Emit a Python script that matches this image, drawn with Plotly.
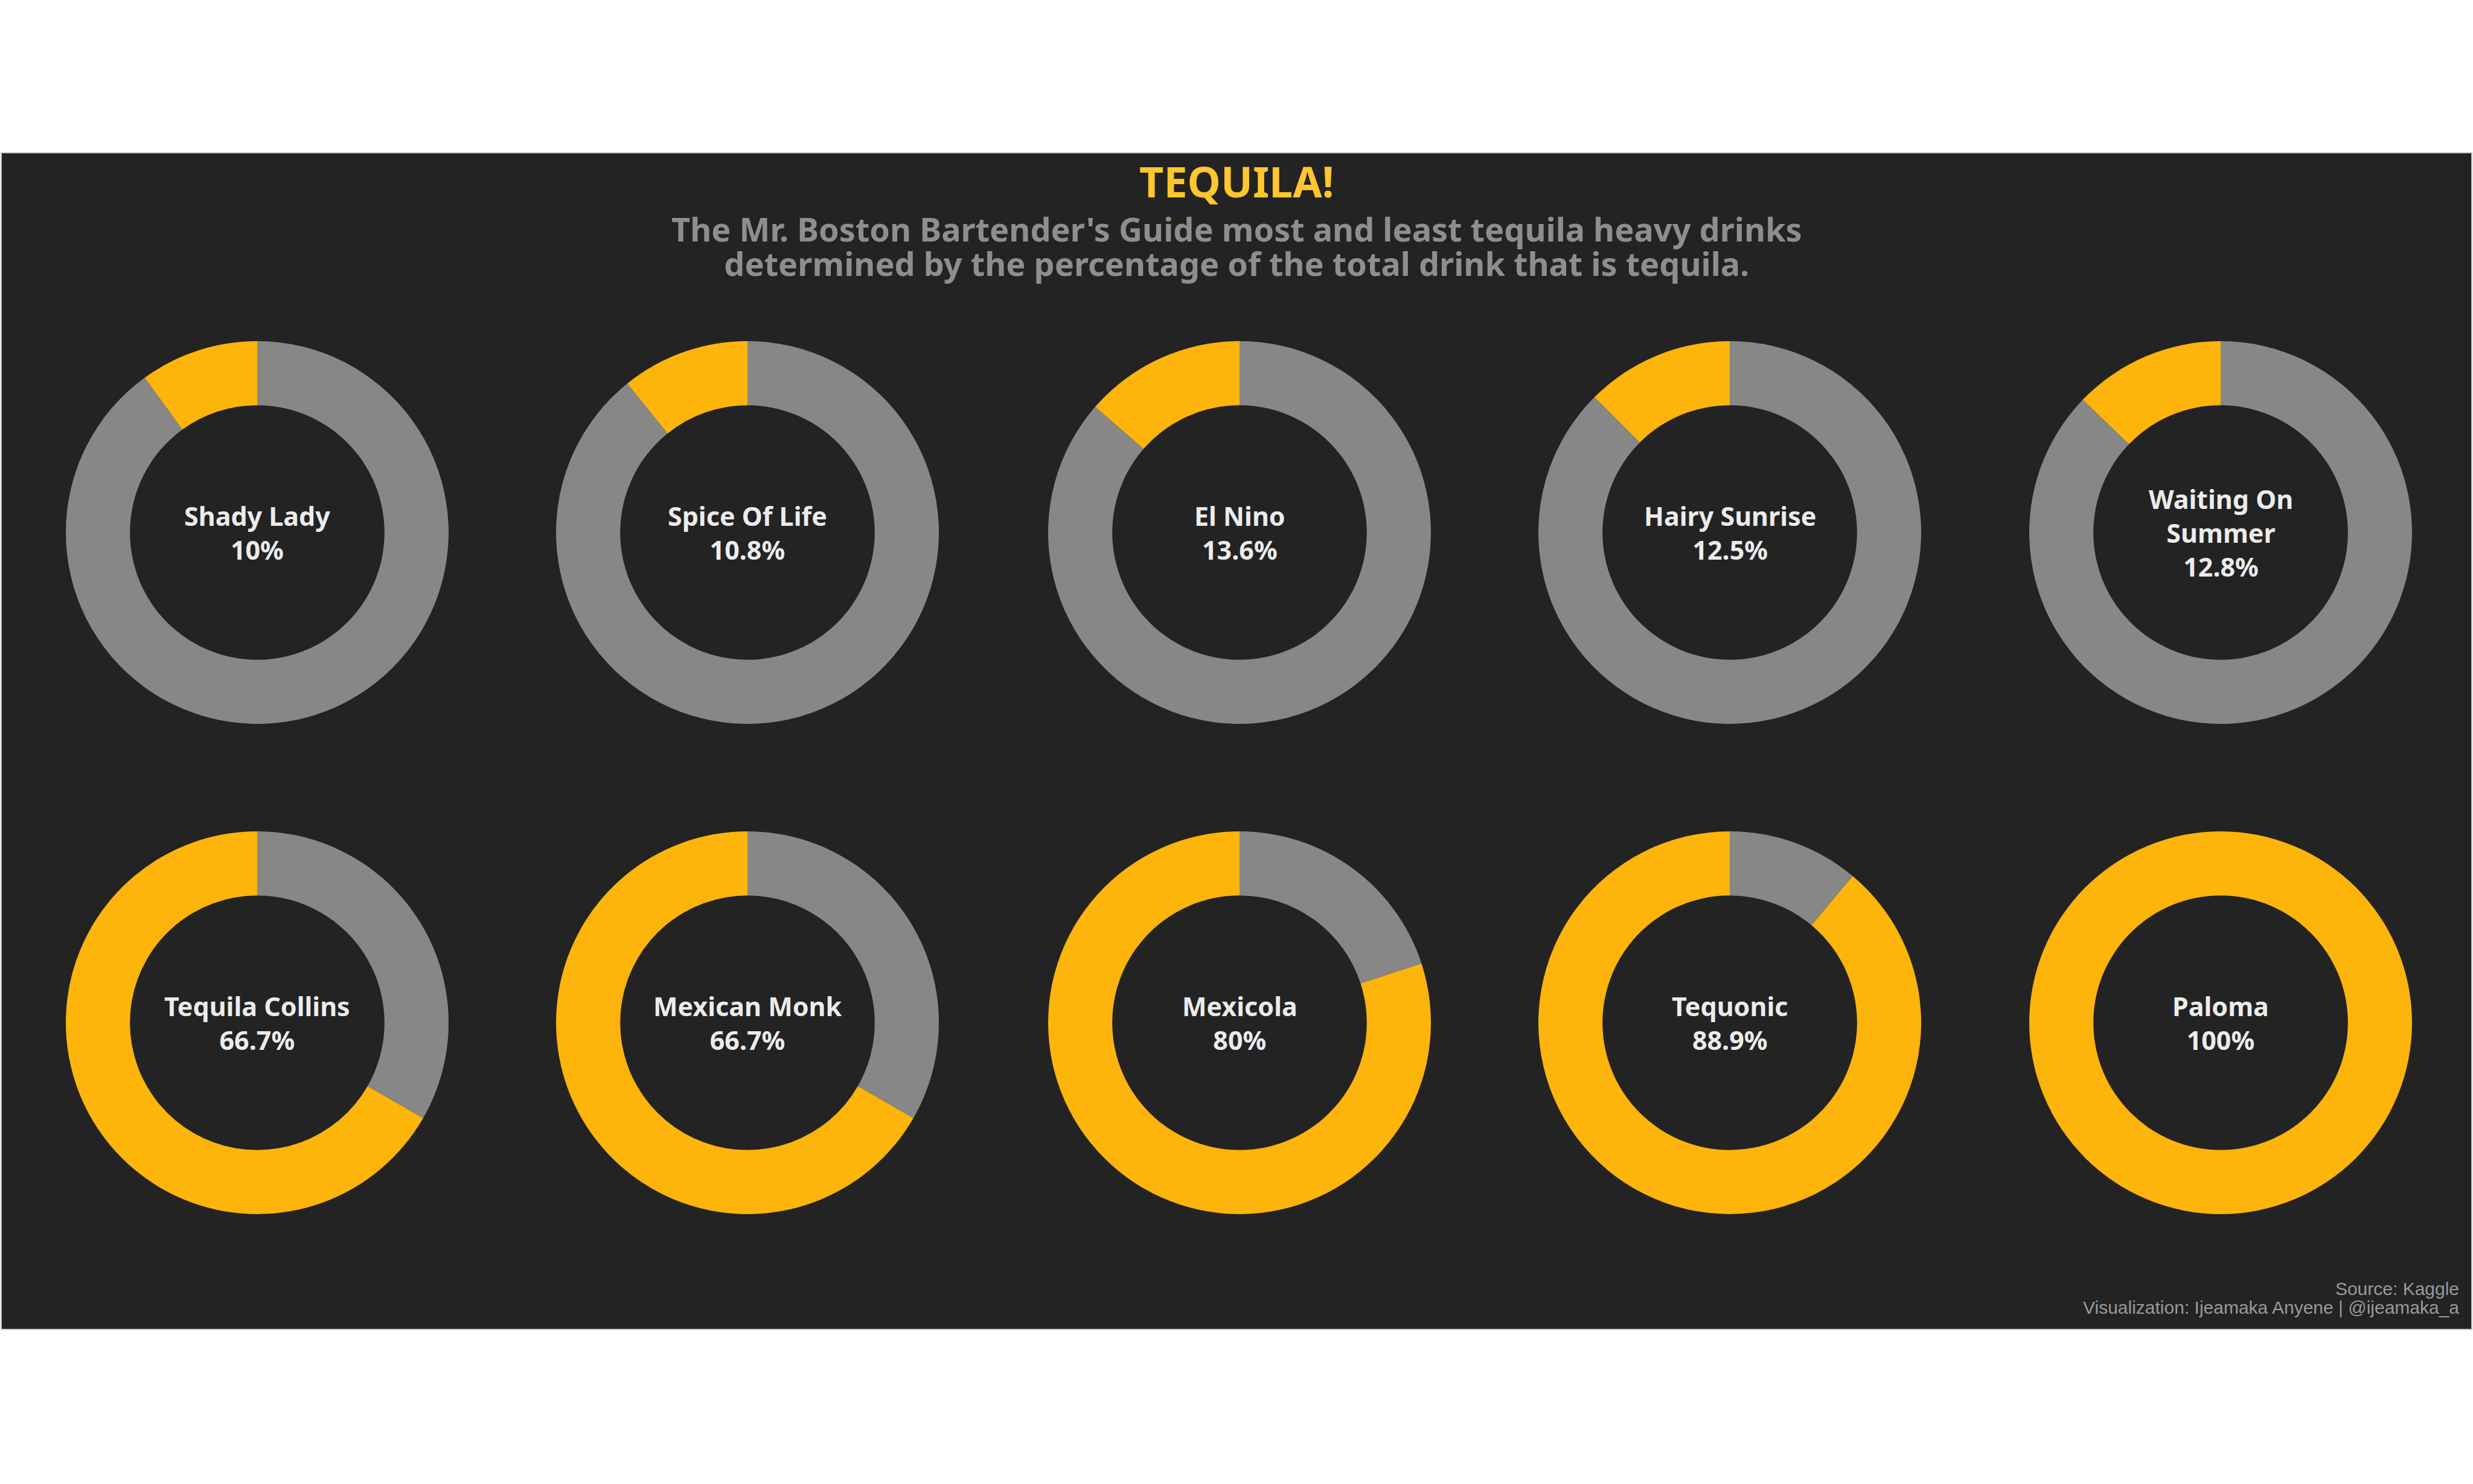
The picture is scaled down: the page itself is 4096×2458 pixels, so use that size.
import plotly.graph_objects as go

# ---- data ----
drinks = ["Shady Lady", "Spice Of Life", "El Nino", "Hairy Sunrise", "Waiting On<br>Summer",
          "Tequila Collins", "Mexican Monk", "Mexicola", "Tequonic", "Paloma"]
tequila_pct = [10, 10.8, 13.6, 12.5, 12.8, 66.7, 66.7, 80, 88.9, 100]
slice_names = ["Other", "Tequila"]

title_text = "TEQUILA!"
subtitle_lines = ["The Mr. Boston Bartender's Guide most and least tequila heavy drinks",
                  "determined by the percentage of the total drink that is tequila."]
caption_lines = ["Source: Kaggle", "Visualization: Ijeamaka Anyene | @ijeamaka_a"]

# ---- layout constants ----
W, H = 4096, 2458
col_x = [426, 1238, 2053, 2865, 3678]
row_y = [882, 1694]
R = 317
YELLOW = "#FDB40B"
GREY = "#878787"
PANEL = "#232323"
FONT = "Noto Sans"


def px(x):
    return x / W


def py(y):
    return 1 - y / H


fig = go.Figure()
annotations = []
for i, (name, pct) in enumerate(zip(drinks, tequila_pct)):
    cx = col_x[i % 5]
    cy = row_y[i // 5]
    fig.add_trace(go.Pie(
        labels=slice_names,
        values=[100 - pct, pct],
        hole=0.665,
        sort=False,
        direction="clockwise",
        rotation=0,
        textinfo="none",
        hoverinfo="skip",
        showlegend=False,
        marker=dict(colors=[GREY, YELLOW], line=dict(width=0)),
        domain=dict(x=[px(cx - R), px(cx + R)], y=[py(cy + R), py(cy - R)]),
    ))
    annotations.append(dict(
        x=px(cx), y=py(cy), xref="paper", yref="paper",
        text=f"{name}<br>{pct:g}%", showarrow=False,
        xanchor="center", yanchor="middle", align="center",
        font=dict(family=FONT, size=43, color="#ECECEC", weight="bold"),
    ))

annotations.append(dict(
    x=0.5, y=py(300), xref="paper", yref="paper", text=title_text, showarrow=False,
    xanchor="center", yanchor="middle",
    font=dict(family=FONT, size=70, color="#FFC62E", weight="bold"),
))
# subtitle: one text block; base size sets the tight line spacing, spans set glyph size
sub_text = "<br>".join(f'<span style="font-size:54px">{s}</span>' for s in subtitle_lines)
annotations.append(dict(
    x=0.5, y=py(407), xref="paper", yref="paper", text=sub_text, showarrow=False,
    xanchor="center", yanchor="middle", align="center",
    font=dict(family=FONT, size=44, color="#8E8E8E", weight="bold"),
))
cap_text = "<br>".join(f'<span style="font-size:30px">{s}</span>' for s in caption_lines)
annotations.append(dict(
    x=px(4075), y=py(2150), xref="paper", yref="paper", text=cap_text, showarrow=False,
    xanchor="right", yanchor="middle", align="right",
    font=dict(family="Liberation Sans, Arial", size=24, color="#9A9A9A"),
))

fig.update_layout(
    width=W, height=H,
    margin=dict(l=0, r=0, t=0, b=0),
    paper_bgcolor="white",
    plot_bgcolor="white",
    annotations=annotations,
    shapes=[dict(
        type="rect", xref="paper", yref="paper",
        x0=px(2), x1=px(W - 2), y0=py(2202), y1=py(253),
        fillcolor=PANEL, line=dict(color="#C8C8C8", width=2), layer="below",
    )],
)

fig.write_html("out.html")
